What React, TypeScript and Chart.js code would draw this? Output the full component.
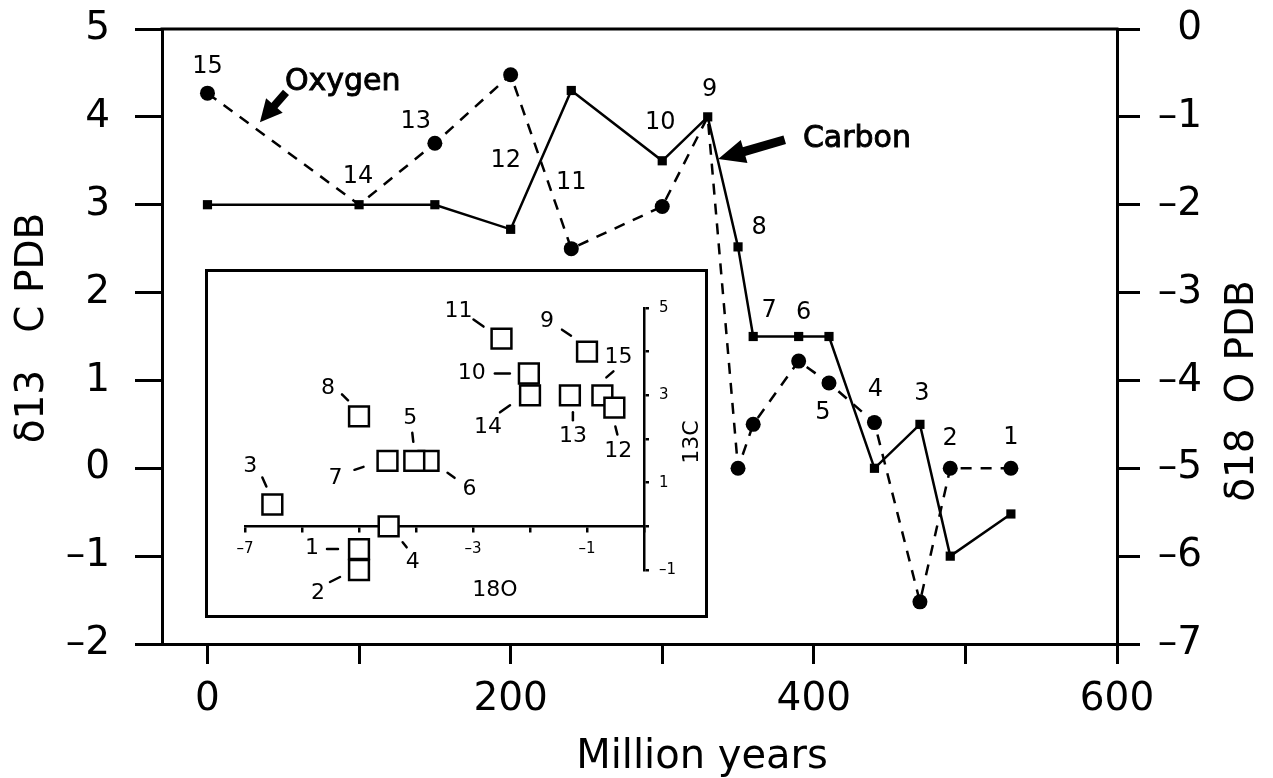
import React, { useEffect, useRef } from "react";
import { Chart, registerables } from "chart.js";

Chart.register(...registerables);

const FONT = "'DejaVu Sans', 'Liberation Sans', sans-serif";

// ---------------- data ----------------
const sampleNumbers = ["15", "14", "13", "12", "11", "10", "9", "8", "7", "6", "5", "4", "3", "2", "1"];
const agesMy = [0, 100, 150, 200, 240, 300, 330, 350, 360, 390, 410, 440, 470, 490, 530];
const carbon13 = [3.0, 3.0, 3.0, 2.72, 4.3, 3.5, 4.0, 2.52, 1.5, 1.5, 1.5, 0.0, 0.5, -1.0, -0.52];
const oxygen18 = [-0.73, -2.0, -1.3, -0.52, -2.5, -2.02, -1.0, -5.0, -4.5, -3.78, -4.03, -4.48, -6.52, -5.0, -5.0];

const ageTicks = [0, 100, 200, 300, 400, 500, 600];
const ageTickLabels = ["0", "", "200", "", "400", "", "600"];
const carbonTickLabels = ["–2", "–1", "0", "1", "2", "3", "4", "5"]; // -2 .. 5
const oxygenTickLabels = ["–7", "–6", "–5", "–4", "–3", "–2", "–1", "0"]; // -7 .. 0
const inset18OTicks = [-7, -6, -5, -4, -3, -2, -1, 0];
const inset18OTickLabels = ["–7", "", "–5", "", "–3", "", "–1", ""];
const inset13CTickLabels = ["–1", "", "1", "", "3", "", "5"]; // -1 .. 5

// label placement (pixel offsets from the anchored point): [series, dx, dy]
const mainLabelPlacement: Array<[string, number, number]> = [
  ["o", 0, -26], // 15
  ["c", -1, -28], // 14
  ["o", -19, -21], // 13
  ["c", -5, -69], // 12
  ["o", 0, -66], // 11
  ["c", -2, -38], // 10
  ["c", 2, -27], // 9
  ["c", 21, -19], // 8
  ["c", 16, -26], // 7
  ["c", 5, -24], // 6
  ["o", -6, 30], // 5
  ["o", 1, -33], // 4
  ["c", 2, -31], // 3
  ["o", 0, -30], // 2
  ["o", 0, -31], // 1
];

// inset label placement: [labelDx, labelDy, leaderX1, leaderY1, leaderX2, leaderY2]
const insetLabelPlacement: number[][] = [
  [16, -38, 11, -24, 4, -18], // 15
  [-42, 32, -30, 17, -20, 10], // 14
  [3, 41, 3, 17, 3, 25], // 13
  [4, 44, 1, 19, 3, 27], // 12
  [-43, -27, -28, -19, -18, -12], // 11
  [-57, 0, -34, 0, -19, 0], // 10
  [-40, -30, -25, -22, -16, -16], // 9
  [-31, -28, -17, -22, -11, -16], // 8
  [-52, 17, -33, 9, -24, 6], // 7
  [41, 28, 19, 12, 26, 17], // 6
  [-4, -43, -2, -28, -1, -19], // 5
  [24, 36, 14, 16, 18, 21], // 4
  [-22, -38, -10, -27, -6, -18], // 3
  [-41, 23, -29, 12, -19, 7], // 2
  [-47, -1, -32, 0, -21, 0], // 1
];

// annotation arrows, in data coordinates (age, δ13C)
const annotations = [
  { text: "Oxygen", textAt: [51.1, 4.306], tail: [51.8, 4.28], tip: [34.6, 3.94], shaft: 8, head: 22, headW: 22 },
  { text: "Carbon", textAt: [392.8, 3.657], tail: [380.8, 3.74], tip: [336.9, 3.52], shaft: 9, head: 27, headW: 24 },
];

function drawArrow(ctx: CanvasRenderingContext2D, x1: number, y1: number, x2: number, y2: number, shaftW: number, headLen: number, headW: number) {
  const ang = Math.atan2(y2 - y1, x2 - x1);
  const bx = x2 - headLen * Math.cos(ang);
  const by = y2 - headLen * Math.sin(ang);
  ctx.lineWidth = shaftW;
  ctx.lineCap = "butt";
  ctx.beginPath();
  ctx.moveTo(x1, y1);
  ctx.lineTo(bx + Math.cos(ang) * 2, by + Math.sin(ang) * 2);
  ctx.stroke();
  ctx.beginPath();
  ctx.moveTo(x2, y2);
  ctx.lineTo(bx + (headW / 2) * Math.sin(ang), by - (headW / 2) * Math.cos(ang));
  ctx.lineTo(bx - (headW / 2) * Math.sin(ang), by + (headW / 2) * Math.cos(ang));
  ctx.closePath();
  ctx.fill();
}

const mainDecor = {
  id: "mainDecor",
  afterDraw(chart: any) {
    const { ctx, chartArea, scales } = chart;
    const xs = scales.x;
    const yc = scales.y;
    const yo = scales.y2;
    ctx.save();
    ctx.strokeStyle = "#000";
    ctx.fillStyle = "#000";
    // top frame line
    ctx.lineWidth = 3;
    ctx.beginPath();
    ctx.moveTo(chartArea.left - 1.5, chartArea.top);
    ctx.lineTo(chartArea.right + 1.5, chartArea.top);
    ctx.stroke();

    // sample numbers
    ctx.font = `24px ${FONT}`;
    ctx.textAlign = "center";
    ctx.textBaseline = "middle";
    sampleNumbers.forEach((s, i) => {
      const [series, dx, dy] = mainLabelPlacement[i];
      const px = xs.getPixelForValue(agesMy[i]);
      const py = series === "c" ? yc.getPixelForValue(carbon13[i]) : yo.getPixelForValue(oxygen18[i]);
      ctx.fillText(s, px + dx, py + dy);
    });

    // annotations
    annotations.forEach((a) => {
      drawArrow(
        ctx,
        xs.getPixelForValue(a.tail[0]),
        yc.getPixelForValue(a.tail[1]),
        xs.getPixelForValue(a.tip[0]),
        yc.getPixelForValue(a.tip[1]),
        a.shaft,
        a.head,
        a.headW
      );
      ctx.font = `30px ${FONT}`;
      ctx.textAlign = "left";
      ctx.textBaseline = "alphabetic";
      const tx = xs.getPixelForValue(a.textAt[0]);
      const ty = yc.getPixelForValue(a.textAt[1]);
      ctx.lineWidth = 0.9;
      ctx.fillText(a.text, tx, ty);
      ctx.strokeText(a.text, tx, ty);
    });

    // axis titles
    ctx.font = `40px ${FONT}`;
    ctx.textAlign = "center";
    ctx.textBaseline = "alphabetic";
    ctx.fillText("Million years", 702, 768);

    ctx.font = `39px ${FONT}`;
    ctx.textBaseline = "middle";
    ctx.save();
    ctx.translate(33, 328);
    ctx.rotate(-Math.PI / 2);
    ctx.fillText("δ13   C PDB", 0, 0);
    ctx.restore();
    ctx.save();
    ctx.translate(1243, 391);
    ctx.rotate(-Math.PI / 2);
    ctx.fillText("δ18  O PDB", 0, 0);
    ctx.restore();

    ctx.restore();
  },
};

const insetDecor = {
  id: "insetDecor",
  beforeDraw(chart: any) {
    const { ctx, width, height } = chart;
    ctx.save();
    ctx.fillStyle = "#fff";
    ctx.fillRect(0, 0, width, height);
    ctx.restore();
  },
  afterDraw(chart: any) {
    const { ctx, width, height, scales } = chart;
    ctx.save();
    ctx.strokeStyle = "#000";
    ctx.fillStyle = "#000";
    ctx.lineWidth = 3;
    ctx.strokeRect(1.5, 1.5, width - 3, height - 3);
    ctx.font = `22px ${FONT}`;
    ctx.textAlign = "center";
    ctx.textBaseline = "middle";
    ctx.lineWidth = 2.5;
    ctx.lineCap = "round";
    sampleNumbers.forEach((s, i) => {
      const px = scales.x.getPixelForValue(oxygen18[i]);
      const py = scales.y.getPixelForValue(carbon13[i]);
      const [ldx, ldy, ax, ay, bx, by] = insetLabelPlacement[i];
      ctx.fillText(s, px + ldx, py + ldy);
      ctx.beginPath();
      ctx.moveTo(px + ax, py + ay);
      ctx.lineTo(px + bx, py + by);
      ctx.stroke();
    });
    ctx.font = `22px ${FONT}`;
    ctx.fillText("18O", 290, 321);
    ctx.save();
    ctx.translate(487, 173);
    ctx.rotate(-Math.PI / 2);
    ctx.fillText("13C", 0, 0);
    ctx.restore();
    ctx.restore();
  },
};

const noPad = (s: any) => {
  s.paddingTop = 0;
  s.paddingBottom = 0;
  s.paddingLeft = 0;
  s.paddingRight = 0;
};

export default function App() {
  const mainRef = useRef<HTMLCanvasElement | null>(null);
  const insetRef = useRef<HTMLCanvasElement | null>(null);

  useEffect(() => {
    Chart.defaults.font.family = FONT;
    Chart.defaults.color = "#000";
    const black = "#000";

    const main = new Chart(mainRef.current as HTMLCanvasElement, {
      type: "line",
      data: {
        datasets: [
          {
            label: "Carbon",
            data: agesMy.map((a, i) => ({ x: a, y: carbon13[i] })),
            yAxisID: "y",
            borderColor: black,
            backgroundColor: black,
            borderWidth: 2.5,
            pointStyle: "rect",
            pointRadius: 6.5,
            pointBackgroundColor: black,
            pointBorderWidth: 0,
            tension: 0,
            clip: false,
          } as any,
          {
            label: "Oxygen",
            data: agesMy.map((a, i) => ({ x: a, y: oxygen18[i] })),
            yAxisID: "y2",
            borderColor: black,
            backgroundColor: black,
            borderWidth: 2.5,
            borderDash: [11, 9],
            pointStyle: "circle",
            pointRadius: (c: any) => {
              const i = c.dataIndex;
              const sc = c.chart.scales;
              if (!sc || !sc.y || !sc.y2) return 7.5;
              const d = Math.abs(sc.y2.getPixelForValue(oxygen18[i]) - sc.y.getPixelForValue(carbon13[i]));
              return d < 4 ? 0 : 7.5;
            },
            pointBackgroundColor: black,
            pointBorderWidth: 0,
            tension: 0,
            clip: false,
          } as any,
        ],
      },
      options: {
        animation: false,
        responsive: false,
        events: [],
        layout: { padding: { top: 29, left: 0, right: 71, bottom: 0 } },
        plugins: { legend: { display: false }, tooltip: { enabled: false } },
        scales: {
          x: {
            type: "linear",
            min: -30,
            max: 600,
            afterFit: (s: any) => {
              s.height = 134;
              noPad(s);
            },
            afterBuildTicks: (s: any) => {
              s.ticks = ageTicks.map((v) => ({ value: v }));
            },
            ticks: {
              autoSkip: false,
              maxRotation: 0,
              padding: 12,
              font: { size: 39, family: FONT },
              color: black,
              callback: (v: any) => ageTickLabels[ageTicks.indexOf(Number(v))] ?? "",
            },
            grid: { drawOnChartArea: false, tickLength: 20, color: black, lineWidth: 3 },
            border: { display: true, color: black, width: 3 },
          },
          y: {
            type: "linear",
            position: "left",
            min: -2,
            max: 5,
            afterFit: (s: any) => {
              s.width = 162;
              noPad(s);
            },
            ticks: {
              stepSize: 1,
              padding: 25,
              font: { size: 39, family: FONT },
              color: black,
              callback: (v: any) => carbonTickLabels[Math.round(Number(v)) + 2] ?? "",
            },
            grid: { drawOnChartArea: false, tickLength: 27, color: black, lineWidth: 3 },
            border: { display: true, color: black, width: 3 },
          },
          y2: {
            type: "linear",
            position: "right",
            min: -7,
            max: 0,
            afterFit: (s: any) => {
              s.width = 85;
              noPad(s);
            },
            ticks: {
              stepSize: 1,
              padding: 16,
              crossAlign: "far",
              font: { size: 39, family: FONT },
              color: black,
              callback: (v: any) => oxygenTickLabels[Math.round(Number(v)) + 7] ?? "",
            },
            grid: { drawOnChartArea: false, tickLength: 23, color: black, lineWidth: 3 },
            border: { display: true, color: black, width: 3 },
          },
        },
      } as any,
      plugins: [mainDecor],
    });

    const inset = new Chart(insetRef.current as HTMLCanvasElement, {
      type: "scatter",
      data: {
        datasets: [
          {
            label: "18O vs 13C",
            data: oxygen18.map((o, i) => ({ x: o, y: carbon13[i] })),
            pointStyle: "rect",
            pointRadius: 14,
            pointHoverRadius: 14,
            backgroundColor: "#fff",
            borderColor: black,
            borderWidth: 2.5,
            clip: false,
          } as any,
        ],
      },
      options: {
        animation: false,
        responsive: false,
        events: [],
        layout: { padding: { left: 40, top: 39, bottom: 48, right: 0 } },
        plugins: { legend: { display: false }, tooltip: { enabled: false } },
        scales: {
          x: {
            type: "linear",
            min: -7,
            max: 0,
            position: { y: 0 },
            afterFit: (s: any) => {
              s.height = 0;
              noPad(s);
            },
            afterBuildTicks: (s: any) => {
              s.ticks = inset18OTicks.map((v) => ({ value: v }));
            },
            ticks: {
              autoSkip: false,
              maxRotation: 0,
              padding: 9,
              font: { size: 15, family: FONT },
              color: black,
              callback: (v: any) => inset18OTickLabels[inset18OTicks.indexOf(Math.round(Number(v)))] ?? "",
            },
            grid: { drawOnChartArea: false, tickLength: 5, color: black, lineWidth: 2.5 },
            border: { display: true, color: black, width: 2.5 },
          },
          y: {
            type: "linear",
            position: "right",
            min: -1,
            max: 5,
            afterFit: (s: any) => {
              s.width = 64;
              noPad(s);
            },
            ticks: {
              stepSize: 1,
              padding: 10,
              font: { size: 15, family: FONT },
              color: black,
              callback: (v: any) => inset13CTickLabels[Math.round(Number(v)) + 1] ?? "",
            },
            grid: { drawOnChartArea: false, tickLength: 5, color: black, lineWidth: 2.5 },
            border: { display: true, color: black, width: 2.5 },
          },
        },
      } as any,
      plugins: [insetDecor],
    });

    return () => {
      main.destroy();
      inset.destroy();
    };
  }, []);

  return (
    <div style={{ position: "absolute", left: 0, top: 0, width: 1273, height: 778, background: "#fff", overflow: "hidden" }}>
      <canvas ref={mainRef} width={1273} height={778} style={{ position: "absolute", left: 0, top: 0 }} />
      <canvas ref={insetRef} width={503} height={349} style={{ position: "absolute", left: 205, top: 269 }} />
    </div>
  );
}
